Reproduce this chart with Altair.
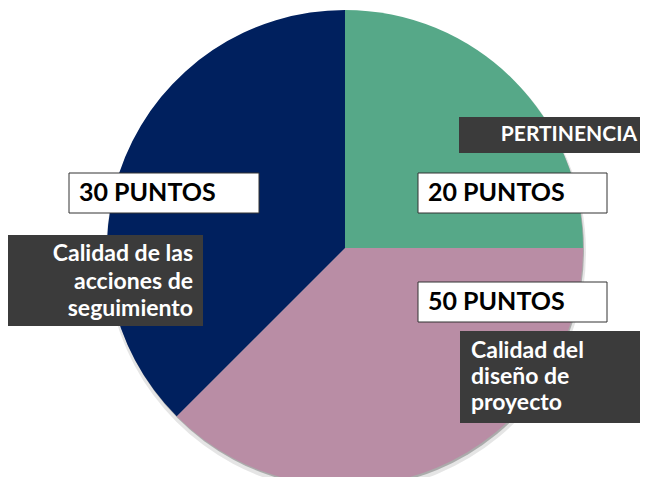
import altair as alt
import pandas as pd

# ---- data ----
categories = ["PERTINENCIA", "Calidad del diseño de proyecto", "Calidad de las acciones de seguimiento"]
shares = [25, 37.5, 37.5]          # share of the circle each slice occupies (as drawn)
point_labels = ["20 PUNTOS", "50 PUNTOS", "30 PUNTOS"]
name_lines = [
    ["PERTINENCIA"],
    ["Calidad del", "diseño de", "proyecto"],
    ["Calidad de las", "acciones de", "seguimiento"],
]
colors = ["#56A888", "#B98DA5", "#00205E"]

df = pd.DataFrame({"category": categories, "share": shares, "order": list(range(len(categories)))})

W, H = 632, 469
CX, CY, R = 337, 240, 238
FONT = "Lato"

base = alt.Chart(df)
theta = alt.Theta("share:Q", stack=True)

shadow1 = base.mark_arc(radius=R + 2, color="#000000", opacity=0.10, stroke=None).encode(
    theta=theta, order=alt.Order("order:Q"), x=alt.value(CX + 1), y=alt.value(CY + 4))
shadow2 = base.mark_arc(radius=R, color="#000000", opacity=0.25, stroke=None).encode(
    theta=theta, order=alt.Order("order:Q"), x=alt.value(CX + 1), y=alt.value(CY + 2))

pie = base.mark_arc(radius=R, stroke=None).encode(
    theta=theta,
    color=alt.Color("category:N", scale=alt.Scale(domain=categories, range=colors), legend=None),
    order=alt.Order("order:Q"),
    x=alt.value(CX), y=alt.value(CY),
)

one = pd.DataFrame({"a": [0]})


def box(x1, y1, x2, y2, fill, stroke=None):
    kw = dict(fill=fill)
    if stroke:
        kw.update(stroke=stroke, strokeWidth=1)
    return alt.Chart(one).mark_rect(**kw).encode(
        x=alt.value(x1), x2=alt.value(x2), y=alt.value(y1), y2=alt.value(y2))


def label(text, x, y, align, color, size, baseline="middle", line_height=None, weight="bold"):
    kw = dict(align=align, baseline=baseline, color=color, fontSize=size, font=FONT, fontWeight=weight)
    if line_height:
        kw["lineHeight"] = line_height
    return alt.Chart(one).mark_text(**kw).encode(
        text=alt.value(text), x=alt.value(x), y=alt.value(y))


DARK = "#3B3B3B"
layers = [shadow1, shadow2, pie,
          # PERTINENCIA
          box(451, 109, 642, 145, DARK),
          label(name_lines[0][0], 629, 127, "right", "white", 21),
          # 20 PUNTOS
          box(410, 165, 599, 205, "white", "#333333"),
          label(point_labels[0], 420, 185, "left", "black", 25),
          # 30 PUNTOS
          box(61, 165, 251, 205, "white", "#333333"),
          label(point_labels[2], 71, 185, "left", "black", 25),
          # Calidad de las acciones de seguimiento
          box(0, 227, 195, 318, DARK),
          label(name_lines[2], 185, 253, "right", "white", 23, "alphabetic", 27.5),
          # 50 PUNTOS
          box(410, 274, 599, 314, "white", "#333333"),
          label(point_labels[1], 420, 294, "left", "black", 25),
          # Calidad del diseño de proyecto
          box(452, 323, 642, 415, DARK),
          label(name_lines[1], 463, 350, "left", "white", 23, "alphabetic", 26),
          ]

chart = alt.layer(*layers).properties(
    width=W, height=H, padding=0, autosize=alt.AutoSizeParams(type="none")
).configure_view(stroke=None)

chart.save("out.html", embed_options={"renderer": "svg", "actions": False})
